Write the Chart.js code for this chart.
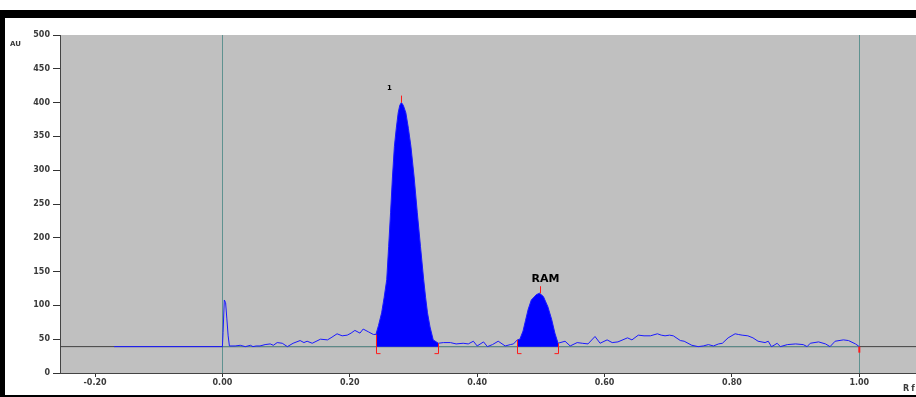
<!DOCTYPE html>
<html>
<head>
<meta charset="utf-8">
<script src="https://cdn.jsdelivr.net/npm/chart.js@4.4.0/dist/chart.umd.min.js"></script>
<style>
html, body { margin: 0; padding: 0; background: #fff; }
#wrap { width: 916px; height: 397px; }
</style>
</head>
<body>
<div id="wrap"><canvas id="chart" width="916" height="397"></canvas></div>
<script>
// densitogram track: Rf position vs absorbance (AU)
const rfValues = [
    -0.17, 0.000, 0.001, 0.003, 0.005, 0.007, 0.009, 0.011,
    0.020, 0.028, 0.036, 0.044, 0.048, 0.053, 0.059, 0.067, 0.075, 0.080,
    0.086, 0.094, 0.102, 0.111, 0.122, 0.128, 0.133, 0.141, 0.154, 0.165,
    0.172, 0.180, 0.188, 0.196, 0.202, 0.208, 0.216, 0.221, 0.229, 0.237,
    0.241, 0.245, 0.250, 0.254, 0.258, 0.261, 0.264, 0.267, 0.270, 0.273,
    0.276, 0.2785, 0.281, 0.284, 0.288, 0.292, 0.296, 0.301, 0.306, 0.311,
    0.316, 0.319, 0.322, 0.326, 0.331, 0.339,
    0.347, 0.358, 0.367, 0.378, 0.386, 0.394, 0.400, 0.410, 0.416, 0.424,
    0.433, 0.444, 0.452, 0.457,
    0.463, 0.467, 0.472, 0.476, 0.480, 0.485, 0.493, 0.498, 0.504, 0.511,
    0.517, 0.522, 0.527,
    0.538, 0.546, 0.557, 0.565, 0.574, 0.585, 0.593, 0.604, 0.612, 0.621,
    0.636, 0.643, 0.653, 0.662, 0.672, 0.683, 0.689, 0.695, 0.702, 0.708,
    0.719, 0.725, 0.731, 0.737, 0.747, 0.755, 0.763, 0.771, 0.779, 0.785,
    0.794, 0.805, 0.810, 0.816, 0.825, 0.833, 0.841, 0.852, 0.857, 0.862,
    0.866, 0.871, 0.876, 0.887, 0.900, 0.912, 0.918, 0.923, 0.936, 0.947,
    0.954, 0.962, 0.975, 0.983, 0.994, 1.000
];
const auValues = [
    39, 39, 60, 108, 104, 80, 55, 40,
    40, 41, 39, 41, 39, 40, 40, 42, 43, 41,
    45, 44, 39, 44, 48, 45, 47, 44, 50, 49,
    53, 58, 55, 56, 59, 63, 59, 65, 61, 57,
    57, 70, 89, 112, 138, 187, 237, 290, 335, 362,
    385, 396, 400, 396, 385, 362, 335, 290, 237, 187,
    138, 112, 89, 68, 49, 44,
    45, 45, 43, 44, 43, 47, 40, 46, 39, 42,
    47, 40, 42, 43,
    49, 50, 62, 78, 94, 108, 116, 118, 113, 98,
    79, 59, 44,
    47, 40, 45, 44, 43, 54, 44, 49, 45, 46,
    52, 49, 56, 55, 55, 58, 56, 55, 56, 55,
    48, 47, 44, 41, 39, 40, 42, 40, 43, 44,
    52, 58, 57, 56, 55, 52, 47, 45, 47, 39,
    41, 44, 39, 42, 43, 42, 39, 44, 46, 43,
    39, 47, 49, 48, 43, 39
];

const baselineAU = 39;
const peakNames = ['1', 'RAM'];
const peakStart = [0.241, 0.463];
const peakApex = [0.281, 0.498];
const peakEnd = [0.339, 0.527];

const xTicks = [-0.2, 0, 0.2, 0.4, 0.6, 0.8, 1.0];
const yTicks = [0, 50, 100, 150, 200, 250, 300, 350, 400, 450, 500];
const trackStart = 0, trackEnd = 1;

const signal = rfValues.map((x, i) => ({ x: x, y: auValues[i] }));
const auAt = rf => signal.reduce((a, b) => Math.abs(b.x - rf) < Math.abs(a.x - rf) ? b : a).y;

const peakFills = peakNames.map((n, i) => ({
    label: 'peak ' + n,
    data: signal.filter(p => p.x >= peakStart[i] - 1e-9 && p.x <= peakEnd[i] + 1e-9),
    borderWidth: 0,
    borderColor: 'rgba(0,0,0,0)',
    backgroundColor: '#0000ff',
    fill: { value: baselineAU },
    pointRadius: 0,
    tension: 0
}));

const FONT = 'DejaVu Sans';
const TEAL = '#5f9290';

const plateDecor = {
    id: 'plateDecor',
    beforeDraw(chart) {
        const c = chart.ctx, a = chart.chartArea;
        c.save();
        c.fillStyle = '#ffffff';
        c.fillRect(0, 0, chart.width, chart.height);
        c.fillStyle = '#c0c0c0';
        c.fillRect(a.left, a.top, a.right - a.left, a.bottom - a.top);
        c.restore();
    },
    afterDatasetsDraw(chart) {
        const c = chart.ctx, xs = chart.scales.x, ys = chart.scales.y;
        const yBase = ys.getPixelForValue(baselineAU);
        c.save();
        c.strokeStyle = '#ff1a1a';
        c.lineWidth = 1;
        peakNames.forEach((name, i) => {
            const xs0 = Math.round(xs.getPixelForValue(peakStart[i])) + 0.5;
            const xs1 = Math.round(xs.getPixelForValue(peakEnd[i])) + 0.5;
            const xa = Math.round(xs.getPixelForValue(peakApex[i])) + 0.5;
            const ya = ys.getPixelForValue(auAt(peakApex[i]));
            c.beginPath();
            c.moveTo(xs0, ys.getPixelForValue(auAt(peakStart[i])));
            c.lineTo(xs0, yBase + 7);
            c.lineTo(xs0 + 4, yBase + 7);
            c.moveTo(xs1, ys.getPixelForValue(auAt(peakEnd[i])));
            c.lineTo(xs1, yBase + 7);
            c.lineTo(xs1 - 4, yBase + 7);
            c.moveTo(xa, ya);
            c.lineTo(xa, ya - 7);
            c.stroke();
        });
        // end-of-track marker
        const xe = xs.getPixelForValue(trackEnd);
        c.lineWidth = 2;
        c.beginPath();
        c.moveTo(xe, yBase);
        c.lineTo(xe, yBase + 6);
        c.stroke();

        // peak names
        const styles = [
            { font: 'bold 7px "' + FONT + '"', dx: -12, dy: -14 },
            { font: 'bold 11px "' + FONT + '"', dx: 6, dy: -14 }
        ];
        c.fillStyle = '#000';
        c.textAlign = 'center';
        c.textBaseline = 'middle';
        peakNames.forEach((name, i) => {
            const s = styles[i];
            c.font = s.font;
            c.fillText(name, xs.getPixelForValue(peakApex[i]) + s.dx, ys.getPixelForValue(auAt(peakApex[i])) + s.dy);
        });
        c.restore();
    },
    afterDraw(chart) {
        const c = chart.ctx;
        c.save();
        c.fillStyle = '#3a3a3a';
        c.font = 'bold 7px "' + FONT + '"';
        c.textBaseline = 'middle';
        c.textAlign = 'left';
        c.fillText('AU', 10, 44);
        c.letterSpacing = '2px';
        c.font = 'bold 8px "' + FONT + '"';
        c.fillText('Rf', 903, 389);
        c.letterSpacing = '0px';
        // black frame
        c.fillStyle = '#000';
        c.fillRect(0, 10, chart.width, 8);
        c.fillRect(0, 10, 5, chart.height - 10);
        c.fillRect(0, chart.height - 2, chart.width, 2);
        c.restore();
    }
};

window.addEventListener('DOMContentLoaded', () => {
    var ctx = document.getElementById('chart').getContext('2d');
    var chart = new Chart(ctx, {
        type: 'line',
        data: {
            datasets: [{
                label: 'signal',
                data: signal,
                borderColor: '#1a1aff',
                borderWidth: 1,
                pointRadius: 0,
                tension: 0,
                fill: false
            }].concat(peakFills).concat([{
                label: 'baseline track',
                data: [{ x: trackStart, y: baselineAU }, { x: trackEnd, y: baselineAU }],
                borderColor: TEAL,
                borderWidth: 1,
                pointRadius: 0,
                fill: false
            }, {
                label: 'baseline',
                data: [{ x: -0.255, y: baselineAU }, { x: 1.089, y: baselineAU }],
                borderColor: '#404040',
                borderWidth: 1,
                pointRadius: 0,
                fill: false
            }])
        },
        options: {
            responsive: false,
            animation: false,
            devicePixelRatio: 1,
            layout: { padding: { top: 35, left: 0, right: 0, bottom: 0 } },
            plugins: {
                legend: { display: false },
                tooltip: { enabled: false }
            },
            scales: {
                x: {
                    type: 'linear',
                    min: -0.255,
                    max: 1.089,
                    afterBuildTicks: s => { s.ticks = xTicks.map(v => ({ value: v })); },
                    afterFit: s => { s.height = 24; },
                    border: { color: '#444', width: 1 },
                    grid: {
                        drawOnChartArea: true,
                        color: c => (c.tick && (c.tick.value === trackStart || c.tick.value === trackEnd)) ? TEAL : 'rgba(0,0,0,0)',
                        tickColor: '#333',
                        tickLength: 4
                    },
                    ticks: {
                        padding: 1,
                        color: '#3a3a3a',
                        font: { family: FONT, size: 8, weight: 'bold' },
                        maxRotation: 0,
                        autoSkip: false,
                        callback: v => v.toFixed(2)
                    }
                },
                y: {
                    min: 0,
                    max: 500,
                    afterBuildTicks: s => { s.ticks = yTicks.map(v => ({ value: v })); },
                    afterFit: s => { s.width = 60; },
                    border: { color: '#444', width: 1 },
                    grid: {
                        drawOnChartArea: false,
                        tickColor: '#333',
                        tickLength: 7
                    },
                    ticks: {
                        padding: 3,
                        color: '#3a3a3a',
                        font: { family: FONT, size: 8, weight: 'bold' }
                    }
                }
            }
        },
        plugins: [plateDecor]
    });
})
</script>
</body>
</html>
